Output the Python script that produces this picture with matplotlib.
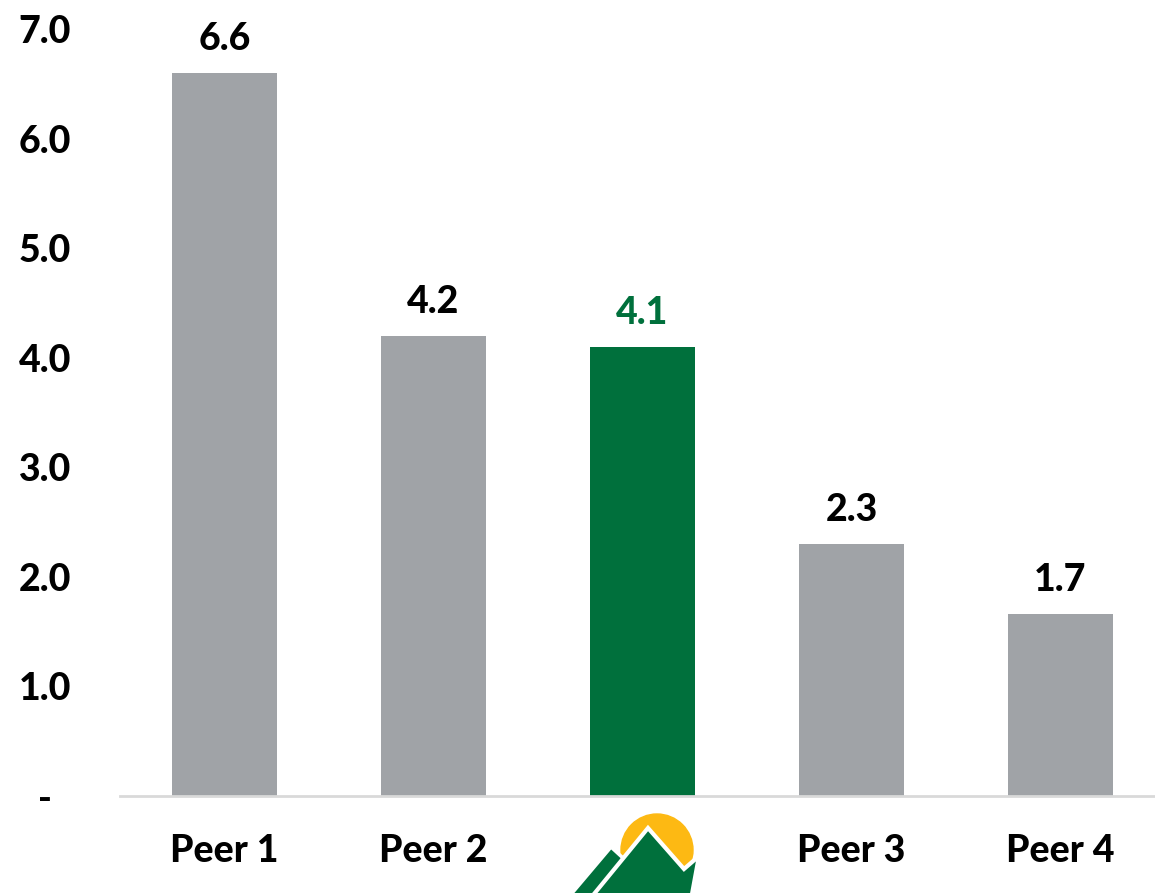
import matplotlib
matplotlib.use("Agg")
import matplotlib.pyplot as plt
from matplotlib.patches import Circle, Polygon

# ── Data ──────────────────────────────────────────────────────────────────────
categories = ["Peer 1", "Peer 2", "", "Peer 3", "Peer 4"]
values = [6.6, 4.2, 4.1, 2.3, 1.66]
highlight = 2  # company bar (shown with logo instead of a name)
y_ticks = [0, 1, 2, 3, 4, 5, 6, 7]

GRAY = "#A0A3A7"
GREEN = "#00703C"
SUN = "#FDB913"
FS = 27

plt.rcParams["font.family"] = ["Lato", "DejaVu Sans"]
plt.rcParams["font.weight"] = "black"

W, H = 1155, 893
fig = plt.figure(figsize=(W / 100, H / 100), dpi=100)

# axes in pixel terms: left 120, baseline y=796, top (7.0) y=29
left, right, top, base = 120, 1155, 29, 796
ax = fig.add_axes([left / W, (H - base) / H, (right - left) / W, (base - top) / H])

x = list(range(len(values)))
colors = [GREEN if i == highlight else GRAY for i in x]
ax.bar(x, values, width=0.5, color=colors, zorder=2)

step = 209  # px per category
ax.set_xlim(-0.5, -0.5 + (right - left) / step)
ax.set_ylim(0, 7)

for i, v in enumerate(values):
    ax.annotate(f"{v:.1f}", (i, v), xytext=(0, 12), textcoords="offset points",
                ha="center", va="bottom", fontsize=FS, fontweight="black",
                color=GREEN if i == highlight else "black")

ax.set_yticks(y_ticks)
ax.set_yticklabels(["-" if t == 0 else f"{t:.1f}" for t in y_ticks])
ax.set_xticks(x)
ax.set_xticklabels(categories)
ax.tick_params(axis="y", length=0, pad=54, labelsize=FS)
ax.tick_params(axis="x", length=0, pad=27, labelsize=FS)
for lab in ax.get_yticklabels() + ax.get_xticklabels():
    lab.set_fontweight("black")
for lab in ax.get_yticklabels():
    lab.set_ha("center")

for s in ["top", "right", "left"]:
    ax.spines[s].set_visible(False)
ax.spines["bottom"].set_color("#D9D9D9")
ax.spines["bottom"].set_linewidth(2)
ax.spines["bottom"].set_zorder(3)

# ── Logo under the highlighted bar (pixel coords, y from top) ────────────────
logo = fig.add_axes([0, 0, 1, 1], zorder=5)
logo.set_xlim(0, W)
logo.set_ylim(H, 0)
logo.axis("off")
logo.add_patch(Circle((657, 850), 36, color=SUN))
logo.add_patch(Polygon([(562, 905), (611, 847), (623, 858), (605, 905)],
                       closed=True, facecolor=GREEN, edgecolor="white", linewidth=2.5))
logo.add_patch(Polygon([(585, 905), (648, 828), (684, 869), (699, 856), (690, 905)],
                       closed=True, facecolor=GREEN, edgecolor="white", linewidth=3))

fig.savefig("out.png", dpi=100)
